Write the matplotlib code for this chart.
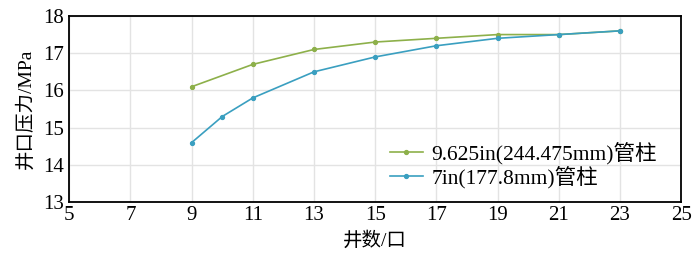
import matplotlib
matplotlib.use("Agg")
import matplotlib.pyplot as plt

plt.rcParams['font.family'] = ['Liberation Serif', 'Noto Sans CJK SC']

wells_big = [9, 11, 13, 15, 17, 19, 21, 23]
press_big = [16.1, 16.7, 17.1, 17.3, 17.4, 17.5, 17.5, 17.6]
wells_small = [9, 10, 11, 13, 15, 17, 19, 21, 23]
press_small = [14.6, 15.3, 15.8, 16.5, 16.9, 17.2, 17.4, 17.5, 17.6]
label_big = "9.625in(244.475mm)管柱"
label_small = "7in(177.8mm)管柱"

fig = plt.figure(figsize=(7, 2.66), dpi=100)
ax = fig.add_axes([0.099, 0.24, 0.874, 0.70])

ax.plot(wells_big, press_big, color='#8db04a', lw=1.2, marker='o', ms=2.8, label=label_big)
ax.plot(wells_small, press_small, color='#3a9fc0', lw=1.2, marker='o', ms=2.8, label=label_small)

ax.set_xlim(5, 25)
ax.set_ylim(13, 18)
ax.set_xticks(range(5, 26, 2))
ax.set_yticks(range(13, 19))
ax.grid(True, color='#e3e3e3', lw=1)
ax.tick_params(axis='x', length=0, labelsize=15, pad=3)
ax.tick_params(axis='y', length=0, labelsize=15, pad=4)
for s in ax.spines.values():
    s.set_linewidth(1.3)
    s.set_color('black')

ax.set_xlabel("井数/口", fontsize=14, labelpad=4)
ax.set_ylabel("井口压力/MPa", fontsize=14, labelpad=6)

ax.legend(loc='lower left', bbox_to_anchor=(0.5, -0.01), frameon=False, fontsize=15.5,
          handlelength=1.5, handletextpad=0.4, labelspacing=0.1, borderpad=0.2)

fig.savefig("out.png", dpi=100)
